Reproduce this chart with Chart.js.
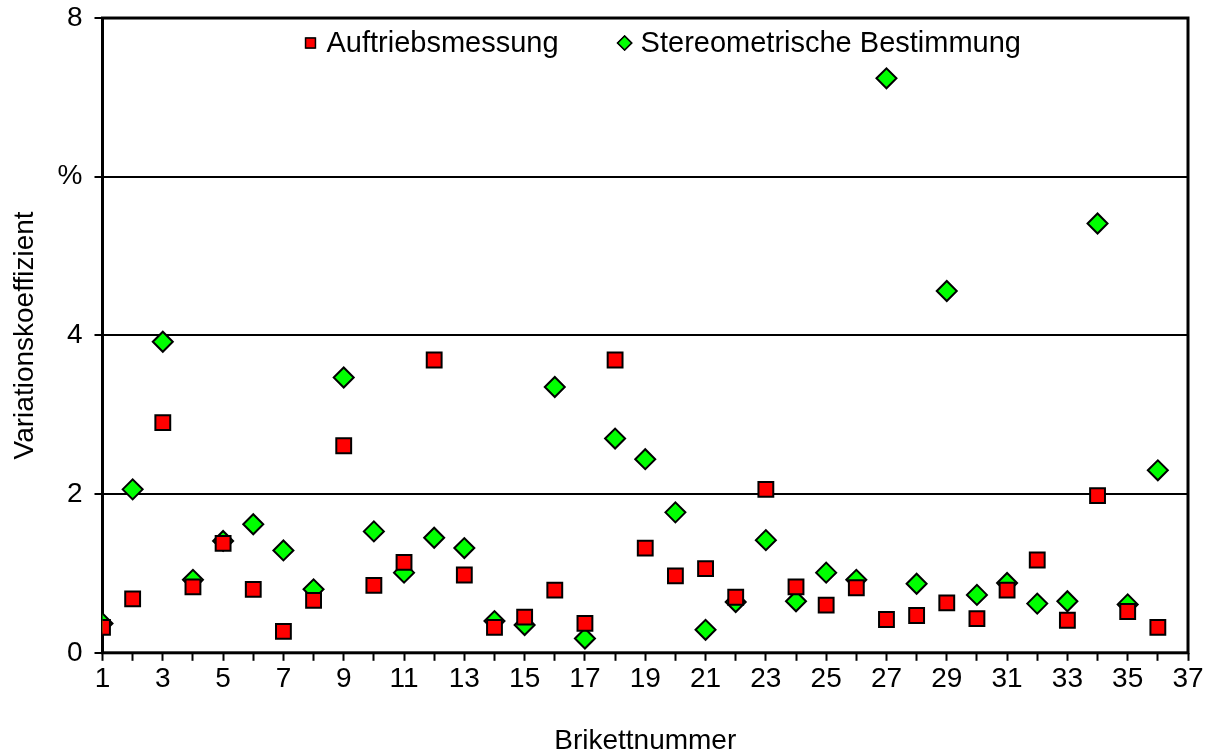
<!DOCTYPE html>
<html>
<head>
<meta charset="utf-8">
<script src="https://cdn.jsdelivr.net/npm/chart.js@4.4.1/dist/chart.umd.min.js"></script>
<style>
    html, body { margin: 0; padding: 0; background: #fff; }
    #wrap { width: 1212px; height: 754px; }
</style>
</head>
<body>
<div id="wrap"><canvas id="myChart" width="1212" height="754"></canvas></div>
<script>
// Brikettnummer 1..36
const brikett = [1, 2, 3, 4, 5, 6, 7, 8, 9, 10, 11, 12, 13, 14, 15, 16, 17, 18,
    19, 20, 21, 22, 23, 24, 25, 26, 27, 28, 29, 30, 31, 32, 33, 34, 35, 36];
// Variationskoeffizient in %
const auftrieb = [0.32, 0.68, 2.90, 0.83, 1.38, 0.80, 0.27, 0.66, 2.61, 0.85, 1.14, 3.69,
    0.98, 0.32, 0.45, 0.79, 0.37, 3.69, 1.32, 0.97, 1.06, 0.70, 2.06, 0.83,
    0.60, 0.82, 0.42, 0.47, 0.63, 0.43, 0.79, 1.17, 0.41, 1.98, 0.52, 0.32];
const stereo = [0.37, 2.06, 3.92, 0.92, 1.41, 1.62, 1.29, 0.80, 3.47, 1.53, 1.01, 1.45,
    1.32, 0.40, 0.35, 3.35, 0.18, 2.70, 2.44, 1.77, 0.29, 0.64, 1.42, 0.65,
    1.01, 0.92, 7.24, 0.87, 4.56, 0.73, 0.88, 0.62, 0.65, 5.41, 0.61, 2.30];
const seriesNames = ['Auftriebsmessung', 'Stereometrische Bestimmung'];
const yTickLabels = { 0: '0', 2: '2', 4: '4', 6: '%', 8: '8' };

const fontFam = '"Liberation Sans", Arial, sans-serif';
const fontSize = 28;

// Rahmen um den Plotbereich (vor den Punkten zeichnen)
const frame = {
    id: 'frame',
    beforeDatasetsDraw(chart) {
        const a = chart.chartArea;
        const ctx = chart.ctx;
        ctx.save();
        ctx.strokeStyle = '#000';
        ctx.lineWidth = 3;
        ctx.strokeRect(a.left, a.top, a.right - a.left, a.bottom - a.top);
        ctx.restore();
    }
};

// Legende innerhalb des Plotbereichs, oben
const innerLegend = {
    id: 'innerLegend',
    afterDatasetsDraw(chart) {
        const a = chart.chartArea;
        const ctx = chart.ctx;
        const y = a.top + 25;
        let x = a.left + 208;
        ctx.save();
        ctx.font = `29px ${fontFam}`;
        ctx.textBaseline = 'middle';
        ctx.textAlign = 'left';
        chart.data.datasets.forEach(ds => {
            Chart.helpers.drawPoint(ctx, {
                pointStyle: ds.pointStyle,
                radius: 7,
                borderWidth: 1.5
            }, x, y);
            ctx.fillStyle = ds.backgroundColor;
            ctx.strokeStyle = '#000';
            ctx.lineWidth = 1.5;
            ctx.fill();
            ctx.stroke();
            ctx.fillStyle = '#000';
            ctx.fillText(ds.label, x + 16, y + 1);
            x += 16 + ctx.measureText(ds.label).width + 66;
        });
        ctx.restore();
    }
};

const canvas = document.getElementById('myChart');
new Chart(canvas, {
    type: 'scatter',
    data: {
        datasets: [{
            label: seriesNames[0],
            data: brikett.map((b, i) => ({ x: b, y: auftrieb[i] })),
            pointStyle: 'rect',
            pointRadius: 10.5,
            backgroundColor: '#ff0000',
            borderColor: '#000',
            borderWidth: 2
        }, {
            label: seriesNames[1],
            data: brikett.map((b, i) => ({ x: b, y: stereo[i] })),
            pointStyle: 'rectRot',
            pointRadius: 10,
            backgroundColor: '#00ff00',
            borderColor: '#000',
            borderWidth: 2
        }]
    },
    options: {
        responsive: false,
        animation: false,
        devicePixelRatio: 1,
        layout: { padding: { top: 0, right: 24, left: 8, bottom: -4 } },
        plugins: {
            tooltip: { enabled: false },
            legend: { display: false }
        },
        scales: {
            x: {
                type: 'linear',
                min: 1,
                max: 37,
                border: { display: false },
                grid: {
                    drawOnChartArea: false,
                    drawTicks: true,
                    tickLength: 8,
                    tickColor: '#000',
                    tickWidth: 2
                },
                ticks: {
                    stepSize: 1,
                    autoSkip: false,
                    maxRotation: 0,
                    color: '#000',
                    padding: 2,
                    font: { family: fontFam, size: fontSize },
                    callback: v => (v % 2 === 1 ? String(v) : '')
                },
                title: {
                    display: true,
                    text: 'Brikettnummer',
                    color: '#000',
                    padding: { top: 26, bottom: 0 },
                    font: { family: fontFam, size: fontSize }
                }
            },
            y: {
                min: 0,
                max: 8,
                border: { display: false },
                grid: {
                    color: '#000',
                    lineWidth: 2,
                    tickLength: 8,
                    tickColor: '#000',
                    tickWidth: 2
                },
                ticks: {
                    stepSize: 2,
                    color: '#000',
                    padding: 12,
                    font: { family: fontFam, size: fontSize, lineHeight: 0.43 },
                    callback: v => yTickLabels[v]
                },
                title: {
                    display: true,
                    text: 'Variationskoeffizient',
                    color: '#000',
                    padding: { top: 0, bottom: 4 },
                    font: { family: fontFam, size: fontSize }
                }
            }
        }
    },
    plugins: [frame, innerLegend]
});
</script>
</body>
</html>
